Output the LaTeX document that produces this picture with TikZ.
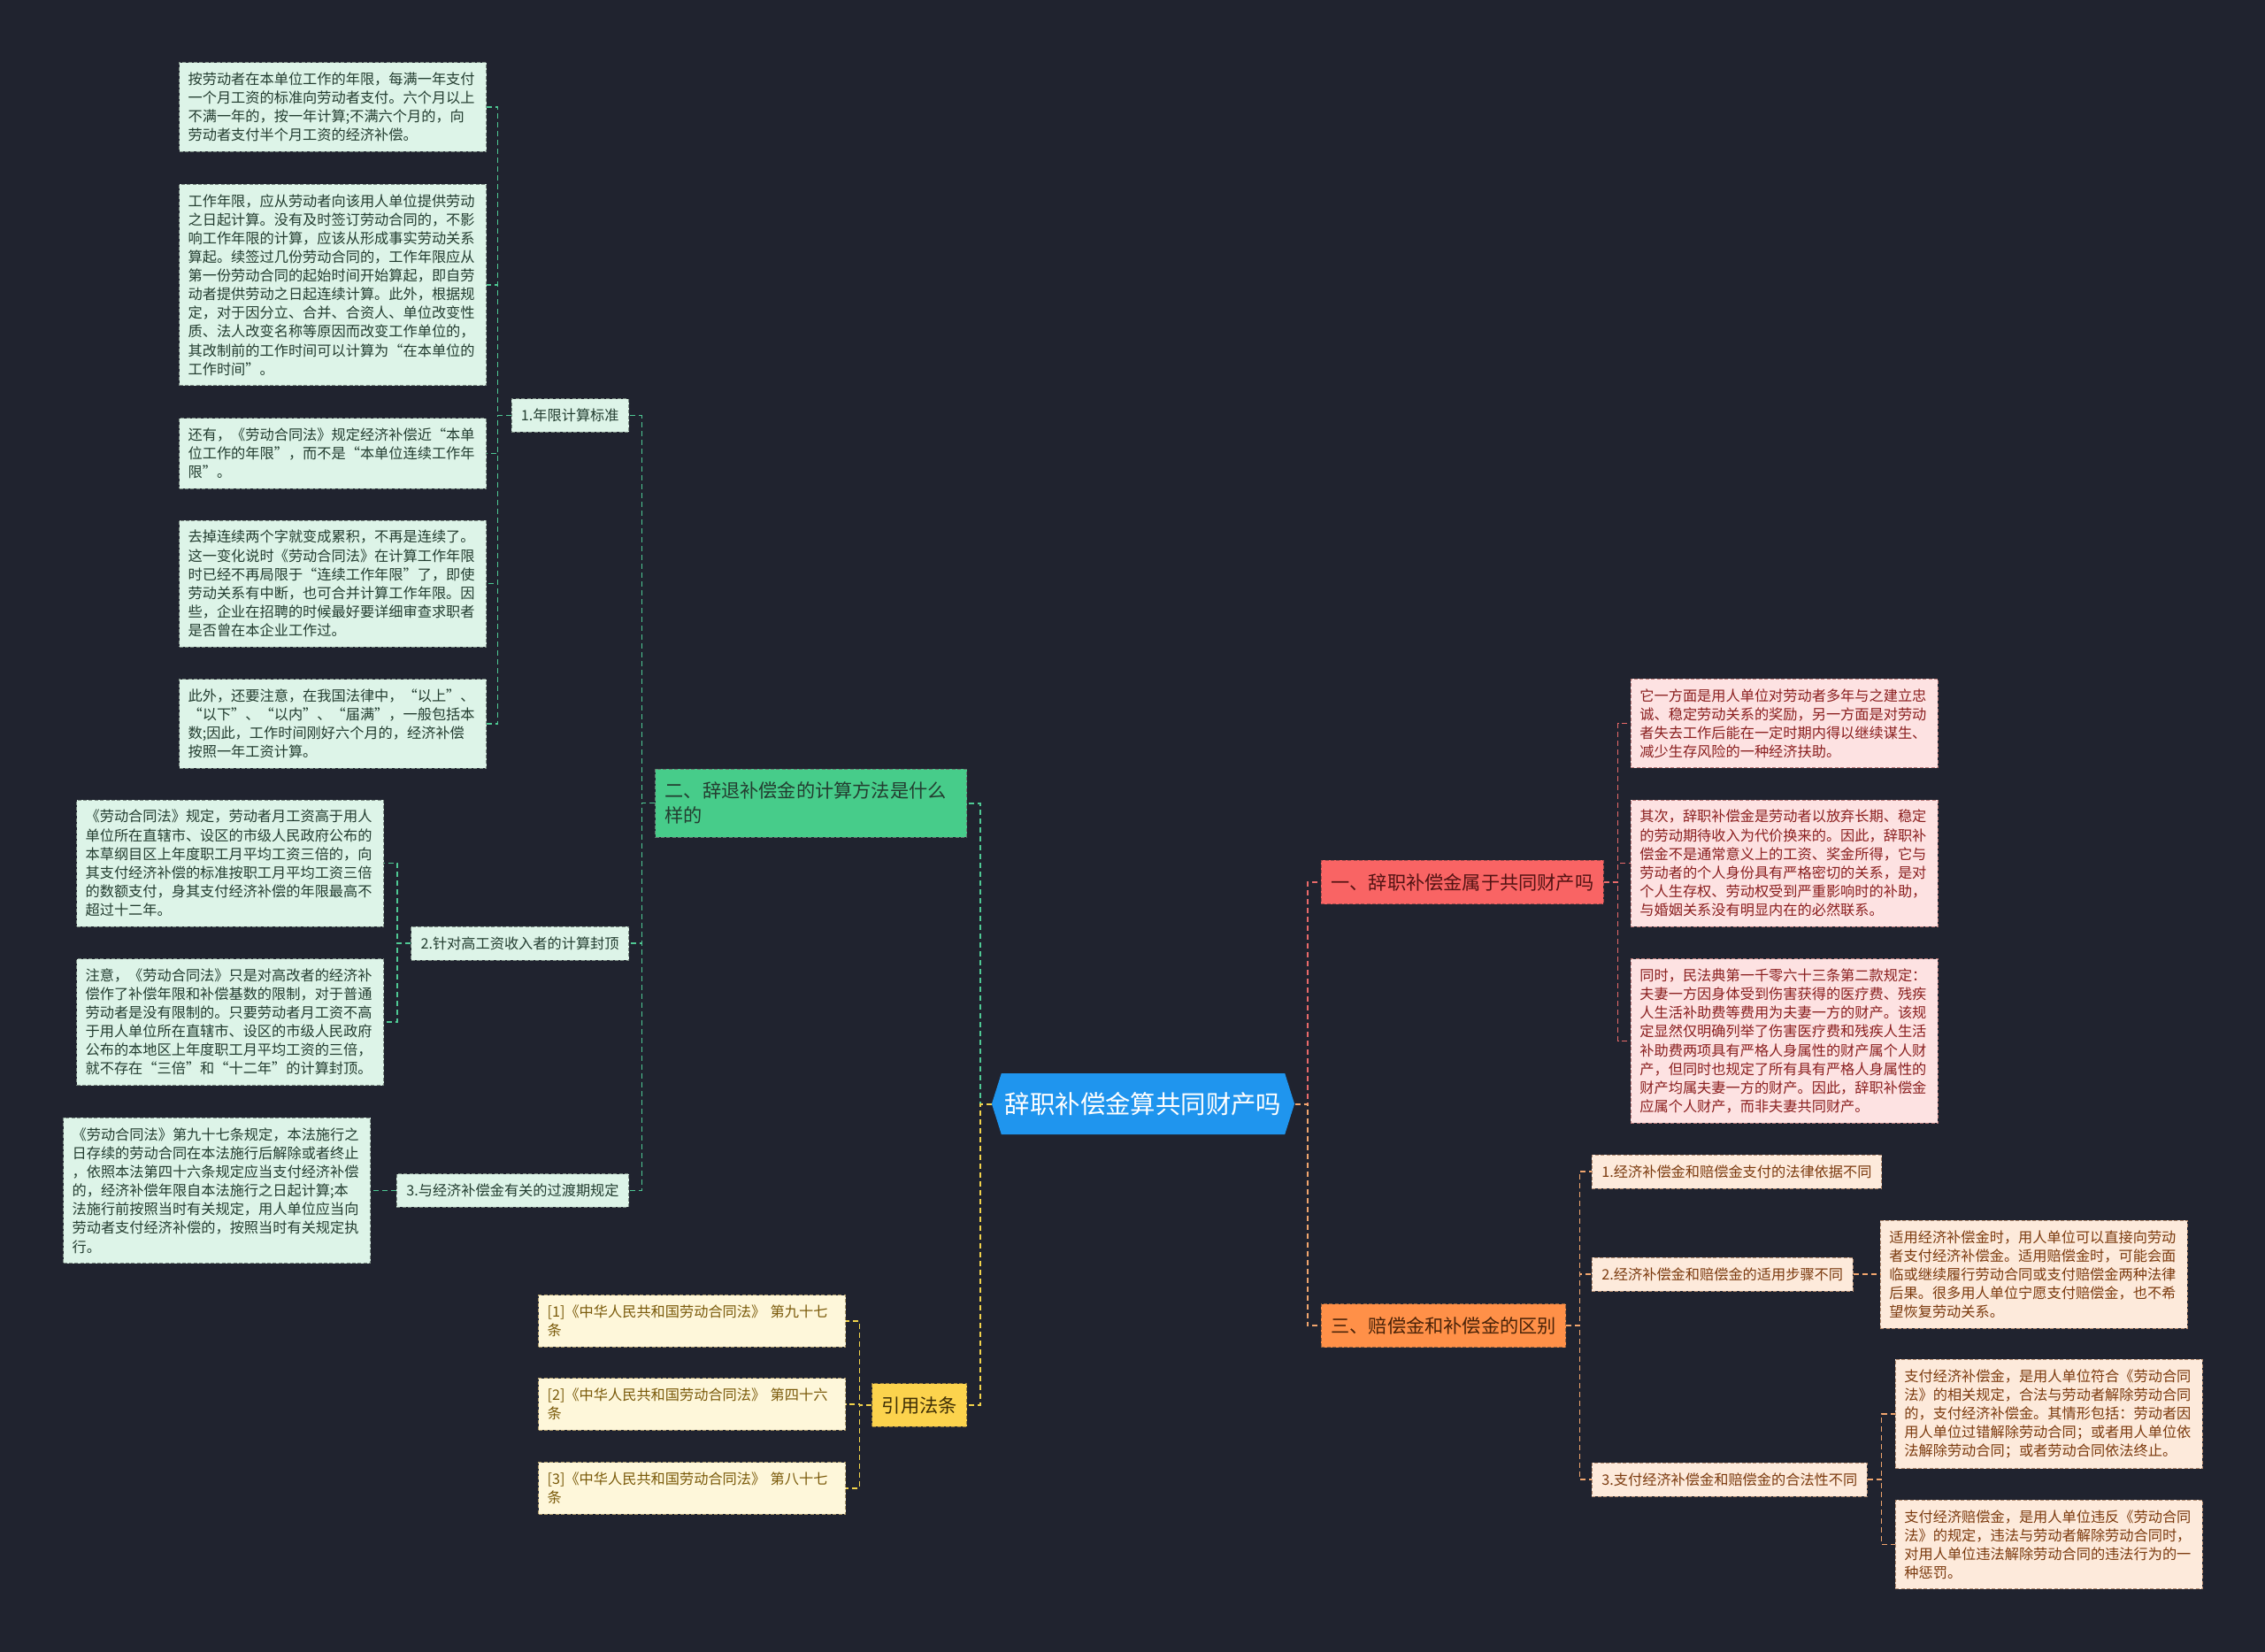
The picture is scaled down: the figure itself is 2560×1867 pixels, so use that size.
\documentclass[tikz,border=0pt]{standalone}
\usepackage{fontspec}
\setmainfont{Noto Sans CJK SC}
\usetikzlibrary{shapes.symbols}

\definecolor{bg}{HTML}{20232F}
\definecolor{rootblue}{HTML}{1F95EE}
\definecolor{grnfill}{HTML}{47CC8A}
\definecolor{grnleaf}{HTML}{DDF4E8}
\definecolor{grntext}{HTML}{233D30}
\definecolor{grnline}{HTML}{4FC994}
\definecolor{redfill}{HTML}{F96464}
\definecolor{redleaf}{HTML}{FDE2E2}
\definecolor{redtext}{HTML}{8A1F1F}
\definecolor{redline}{HTML}{E96A6A}
\definecolor{orgfill}{HTML}{FF9048}
\definecolor{orgleaf}{HTML}{FDEADB}
\definecolor{orgtext}{HTML}{7B3A0E}
\definecolor{orgline}{HTML}{F0A56E}
\definecolor{ylwfill}{HTML}{FCD34D}
\definecolor{ylwleaf}{HTML}{FEF7DA}
\definecolor{ylwtext}{HTML}{7A5A0A}
\definecolor{ylwline}{HTML}{F2D34B}

\tikzset{
  root/.style={shape=signal, signal to=west and east, signal pointer angle=145,
    fill=rootblue, text=white, inner xsep=2pt, minimum height=34.5pt,
    font=\fontsize{14.2}{17}\selectfont},
  topic/.style={draw, dash pattern=on 2pt off 1.2pt, line width=0.4pt,
    inner xsep=5.5pt, inner ysep=7.3pt, font=\fontsize{10.6}{14}\selectfont},
  sub/.style={draw, dash pattern=on 2pt off 1.2pt, line width=0.4pt,
    inner xsep=5.5pt, inner ysep=5.7pt, font=\fontsize{8.1}{10.55}\selectfont},
  leaf/.style={draw, dash pattern=on 2pt off 1.2pt, line width=0.4pt,
    align=left, text width=163.5pt, inner xsep=5pt, inner ysep=5.6pt,
    font=\fontsize{8.1}{10.55}\selectfont},
  gtopic/.style={topic, fill=grnfill, draw=grntext!70, text=grntext},
  rtopic/.style={topic, fill=redfill, draw=redtext!80, text=redtext!60!black},
  otopic/.style={topic, fill=orgfill, draw=orgtext!80, text=orgtext!60!black},
  ytopic/.style={topic, fill=ylwfill, draw=ylwtext!80, text=ylwtext!50!black},
  gleaf/.style={leaf, fill=grnleaf, draw=grntext!60, text=grntext},
  rleaf/.style={leaf, fill=redleaf, draw=redtext!60, text=redtext},
  oleaf/.style={leaf, fill=orgleaf, draw=orgtext!60, text=orgtext},
  yleaf/.style={leaf, fill=ylwleaf, draw=ylwtext!60, text=ylwtext},
  gsub/.style={sub, fill=grnleaf, draw=grntext!60, text=grntext},
  osub/.style={sub, fill=orgleaf, draw=orgtext!60, text=orgtext},
  conn/.style={dash pattern=on 3pt off 2pt, line width=0.7pt},
  mainconn/.style={dash pattern=on 3pt off 2pt, line width=1pt}
}

\begin{document}
\begin{tikzpicture}[x=0.5pt, y=-0.5pt]

  \fill[bg] (0,0) rectangle (2560,1867);
  \useasboundingbox (0,0) rectangle (2560,1867);

  \node[root] (root) at (1292,1247.5) {辞职补偿金算共同财产吗};

  \node[gtopic, anchor=east, align=left, text width=165pt] (calc) at (1093,907.5) {二、辞退补偿金的计算方法是什么\\样的};
  \node[ytopic, anchor=east] (laws) at (1093,1588) {引用法条};
  \node[rtopic, anchor=west] (property) at (1493,997) {一、辞职补偿金属于共同财产吗};
  \node[otopic, anchor=west] (diff) at (1493,1498) {三、赔偿金和补偿金的区别};

  \node[gsub, anchor=east] (years) at (711,469.5) {1.年限计算标准};
  \node[gsub, anchor=east] (cap) at (711,1066) {2.针对高工资收入者的计算封顶};
  \node[gsub, anchor=east] (transit) at (711,1345.5) {3.与经济补偿金有关的过渡期规定};

  \node[gleaf, anchor=east] (years1) at (550,121) {按劳动者在本单位工作的年限，每满一年支付\\一个月工资的标准向劳动者支付。六个月以上\\不满一年的，按一年计算;不满六个月的，向\\劳动者支付半个月工资的经济补偿。};
  \node[gleaf, anchor=east] (years2) at (550,322) {工作年限，应从劳动者向该用人单位提供劳动\\之日起计算。没有及时签订劳动合同的，不影\\响工作年限的计算，应该从形成事实劳动关系\\算起。续签过几份劳动合同的，工作年限应从\\第一份劳动合同的起始时间开始算起，即自劳\\动者提供劳动之日起连续计算。此外，根据规\\定，对于因分立、合并、合资人、单位改变性\\质、法人改变名称等原因而改变工作单位的，\\其改制前的工作时间可以计算为“在本单位的\\工作时间”。};
  \node[gleaf, anchor=east] (years3) at (550,512.5) {还有，《劳动合同法》规定经济补偿近“本单\\位工作的年限”，而不是“本单位连续工作年\\限”。};
  \node[gleaf, anchor=east] (years4) at (550,659.5) {去掉连续两个字就变成累积，不再是连续了。\\这一变化说时《劳动合同法》在计算工作年限\\时已经不再局限于“连续工作年限”了，即使\\劳动关系有中断，也可合并计算工作年限。因\\些，企业在招聘的时候最好要详细审查求职者\\是否曾在本企业工作过。};
  \node[gleaf, anchor=east] (years5) at (550,818) {此外，还要注意，在我国法律中，“以上”、\\“以下”、“以内”、“届满”，一般包括本\\数;因此，工作时间刚好六个月的，经济补偿\\按照一年工资计算。};

  \node[gleaf, anchor=east] (cap1) at (434,975.5) {《劳动合同法》规定，劳动者月工资高于用人\\单位所在直辖市、设区的市级人民政府公布的\\本草纲目区上年度职工月平均工资三倍的，向\\其支付经济补偿的标准按职工月平均工资三倍\\的数额支付，身其支付经济补偿的年限最高不\\超过十二年。};
  \node[gleaf, anchor=east] (cap2) at (434,1155) {注意，《劳动合同法》只是对高改者的经济补\\偿作了补偿年限和补偿基数的限制，对于普通\\劳动者是没有限制的。只要劳动者月工资不高\\于用人单位所在直辖市、设区的市级人民政府\\公布的本地区上年度职工月平均工资的三倍，\\就不存在“三倍”和“十二年”的计算封顶。};

  \node[gleaf, anchor=east] (transit1) at (419,1345.5) {《劳动合同法》第九十七条规定，本法施行之\\日存续的劳动合同在本法施行后解除或者终止\\，依照本法第四十六条规定应当支付经济补偿\\的，经济补偿年限自本法施行之日起计算;本\\法施行前按照当时有关规定，用人单位应当向\\劳动者支付经济补偿的，按照当时有关规定执\\行。};

  \node[yleaf, anchor=east] (law1) at (956,1493) {[1]《中华人民共和国劳动合同法》 第九十七\\条};
  \node[yleaf, anchor=east] (law2) at (956,1587) {[2]《中华人民共和国劳动合同法》 第四十六\\条};
  \node[yleaf, anchor=east] (law3) at (956,1682) {[3]《中华人民共和国劳动合同法》 第八十七\\条};

  \node[rleaf, anchor=west] (prop1) at (1843,817.5) {它一方面是用人单位对劳动者多年与之建立忠\\诚、稳定劳动关系的奖励，另一方面是对劳动\\者失去工作后能在一定时期内得以继续谋生、\\减少生存风险的一种经济扶助。};
  \node[rleaf, anchor=west] (prop2) at (1843,975.5) {其次，辞职补偿金是劳动者以放弃长期、稳定\\的劳动期待收入为代价换来的。因此，辞职补\\偿金不是通常意义上的工资、奖金所得，它与\\劳动者的个人身份具有严格密切的关系，是对\\个人生存权、劳动权受到严重影响时的补助，\\与婚姻关系没有明显内在的必然联系。};
  \node[rleaf, anchor=west] (prop3) at (1843,1176.5) {同时，民法典第一千零六十三条第二款规定：\\夫妻一方因身体受到伤害获得的医疗费、残疾\\人生活补助费等费用为夫妻一方的财产。该规\\定显然仅明确列举了伤害医疗费和残疾人生活\\补助费两项具有严格人身属性的财产属个人财\\产，但同时也规定了所有具有严格人身属性的\\财产均属夫妻一方的财产。因此，辞职补偿金\\应属个人财产，而非夫妻共同财产。};

  \node[osub, anchor=west] (basis) at (1799,1324) {1.经济补偿金和赔偿金支付的法律依据不同};
  \node[osub, anchor=west] (steps) at (1799,1440) {2.经济补偿金和赔偿金的适用步骤不同};
  \node[osub, anchor=west] (legal) at (1799,1672) {3.支付经济补偿金和赔偿金的合法性不同};

  \node[oleaf, anchor=west] (steps1) at (2125,1440) {适用经济补偿金时，用人单位可以直接向劳动\\者支付经济补偿金。适用赔偿金时，可能会面\\临或继续履行劳动合同或支付赔偿金两种法律\\后果。很多用人单位宁愿支付赔偿金，也不希\\望恢复劳动关系。};
  \node[oleaf, anchor=west] (legal1) at (2142,1598) {支付经济补偿金，是用人单位符合《劳动合同\\法》的相关规定，合法与劳动者解除劳动合同\\的，支付经济补偿金。其情形包括：劳动者因\\用人单位过错解除劳动合同；或者用人单位依\\法解除劳动合同；或者劳动合同依法终止。};
  \node[oleaf, anchor=west] (legal2) at (2142,1745.5) {支付经济赔偿金，是用人单位违反《劳动合同\\法》的规定，违法与劳动者解除劳动合同时，\\对用人单位违法解除劳动合同的违法行为的一\\种惩罚。};

  \draw[mainconn, grnline] (root.west) -- ++(-13,0) |- (calc.east);
  \draw[mainconn, ylwline] (root.west) -- ++(-13,0) |- (laws.east);
  \draw[mainconn, redline] (root.east) -- ++(14,0) |- (property.west);
  \draw[mainconn, orgline] (root.east) -- ++(14,0) |- (diff.west);

  \draw[conn, grnline] (calc.west) -- ++(-15,0) |- (years.east);
  \draw[conn, grnline] (calc.west) -- ++(-15,0) |- (cap.east);
  \draw[conn, grnline] (calc.west) -- ++(-15,0) |- (transit.east);

  \draw[conn, grnline] (years.west) -- ++(-15,0) |- (years1.east);
  \draw[conn, grnline] (years.west) -- ++(-15,0) |- (years2.east);
  \draw[conn, grnline] (years.west) -- ++(-15,0) |- (years3.east);
  \draw[conn, grnline] (years.west) -- ++(-15,0) |- (years4.east);
  \draw[conn, grnline] (years.west) -- ++(-15,0) |- (years5.east);

  \draw[conn, grnline] (cap.west) -- ++(-15,0) |- (cap1.east);
  \draw[conn, grnline] (cap.west) -- ++(-15,0) |- (cap2.east);
  \draw[conn, grnline] (transit.west) -- (transit1.east);

  \draw[conn, ylwline] (laws.west) -- ++(-14,0) |- (law1.east);
  \draw[conn, ylwline] (laws.west) -- ++(-14,0) |- (law2.east);
  \draw[conn, ylwline] (laws.west) -- ++(-14,0) |- (law3.east);

  \draw[conn, redline] (property.east) -- ++(16,0) |- (prop1.west);
  \draw[conn, redline] (property.east) -- ++(16,0) |- (prop2.west);
  \draw[conn, redline] (property.east) -- ++(16,0) |- (prop3.west);

  \draw[conn, orgline] (diff.east) -- ++(15,0) |- (basis.west);
  \draw[conn, orgline] (diff.east) -- ++(15,0) |- (steps.west);
  \draw[conn, orgline] (diff.east) -- ++(15,0) |- (legal.west);

  \draw[conn, orgline] (steps.east) -- (steps1.west);
  \draw[conn, orgline] (legal.east) -- ++(16,0) |- (legal1.west);
  \draw[conn, orgline] (legal.east) -- ++(16,0) |- (legal2.west);

\end{tikzpicture}
\end{document}
